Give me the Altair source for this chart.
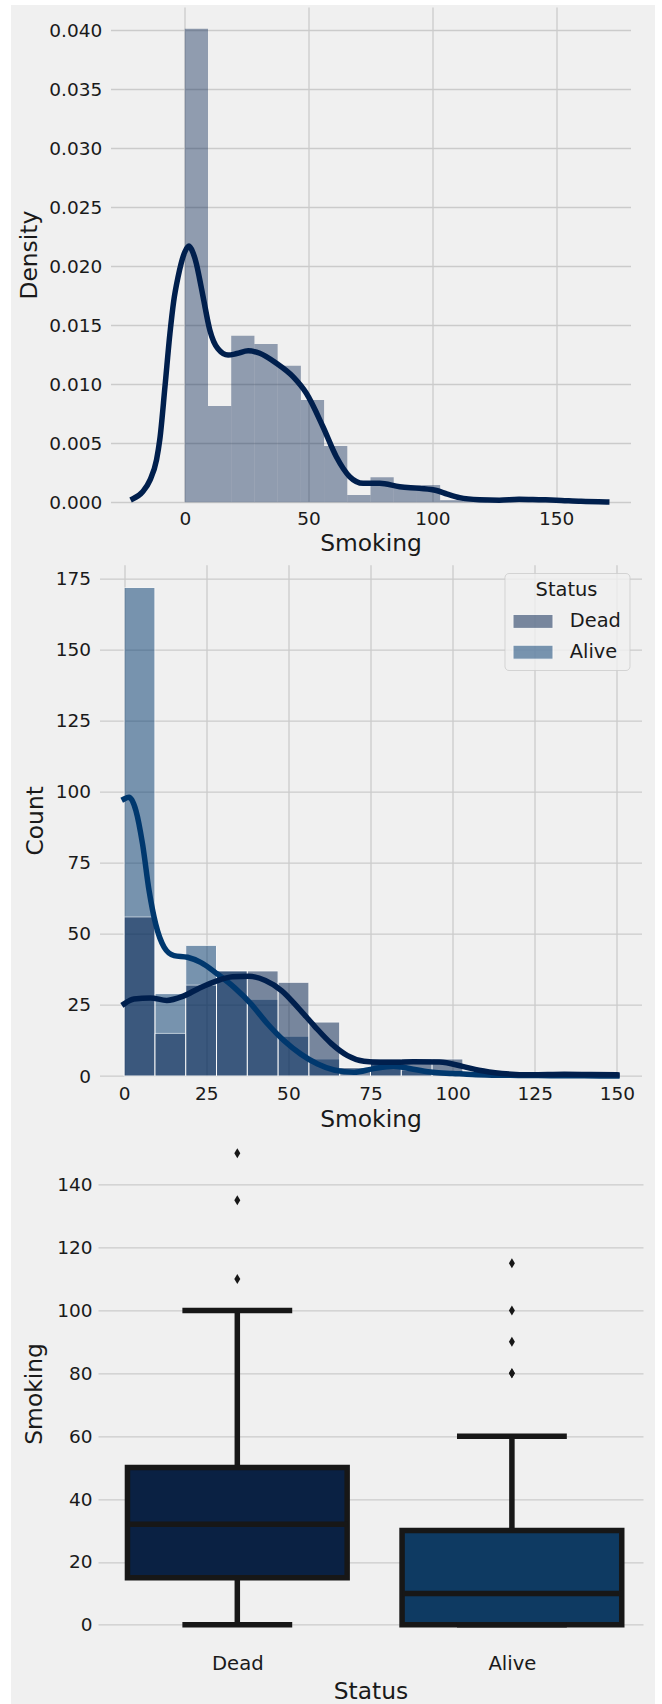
import altair as alt
import pandas as pd

# ---------------- data ----------------
BIN_EDGES = [0.0, 9.375, 18.75, 28.125, 37.5, 46.875, 56.25, 65.625, 75.0,
             84.375, 93.75, 103.125, 112.5, 121.875, 131.25, 140.625, 150.0]

# overall distribution (density histogram + KDE)
DENSITY = [0.0401, 0.00816, 0.01411, 0.01341, 0.01157, 0.00866, 0.00477, 0.00062,
           0.00212, 0.00146, 0.00146, 0.00018, 0.00018, 0.0, 0.00018, 0.00018]
KDE_X = [-20.9, -17.0, -14.0, -11.4, -10.1, -8.0, -6.0, -4.5, -2.7, 0.0, 1.7, 3.2,
         4.7, 6.0, 7.4, 10.1, 13.4, 17.5, 21.0, 25.6, 30.3, 37.0, 43.7, 49.1, 55.8,
         61.2, 66.6, 72.0, 78.7, 86.8, 94.8, 101.6, 106.0, 111.0, 119.0, 127.0,
         135.0, 143.0, 150.0, 160.0, 170.4]
KDE_DENSITY = [0.0003, 0.0009, 0.0019, 0.0036, 0.0053, 0.0098, 0.0143, 0.0170,
               0.0191, 0.0212, 0.0217, 0.0212, 0.0202, 0.0189, 0.0174, 0.0146,
               0.0130, 0.01247, 0.0126, 0.01284, 0.01262, 0.01177, 0.01064,
               0.00923, 0.0064, 0.00386, 0.00217, 0.00161, 0.00161, 0.00132,
               0.00118, 0.0010, 0.0007, 0.0004, 0.00022, 0.00018, 0.00026,
               0.00022, 0.00018, 0.00008, 0.00003]

# counts by status (layered histogram + KDE)
STATUS = ["Dead", "Alive"]
COUNT_DEAD = [56, 15, 32, 37, 37, 33, 19, 3, 6, 6, 6, 1, 0, 0, 1, 1]
COUNT_ALIVE = [172, 29, 46, 37, 27, 14, 6, 0, 5, 2, 2, 0, 1, 0, 0, 0]
KDE_DEAD_X = [0, 3, 8, 13, 18, 23, 28, 33, 38, 43, 48, 53, 58, 63, 68, 73, 78, 83,
              88, 96, 103, 108, 115, 124, 134, 142, 150]
KDE_DEAD_COUNT = [25.4, 27.1, 27.5, 26.6, 28.1, 31.0, 33.4, 34.9, 35.1, 33.6, 30.0,
                  24.0, 17.5, 11.5, 7.2, 5.2, 4.8, 4.8, 5.0, 4.9, 3.4, 2.0, 0.9,
                  0.4, 0.6, 0.5, 0.4]
KDE_ALIVE_X = [0, 1.5, 3.6, 5.6, 7.6, 9.6, 12.2, 15.2, 19.3, 23.3, 28.4, 33.5, 38.6,
               43.7, 48.7, 53.8, 58.9, 63.9, 70, 76, 82, 88, 94, 100, 106, 112, 120,
               130, 140, 150]
KDE_ALIVE_COUNT = [97.5, 98.1, 93.4, 81.7, 65.2, 53.5, 45.3, 42.4, 41.8, 40.0, 35.9,
                   31.2, 25.4, 18.3, 12.4, 7.7, 4.2, 2.1, 1.3, 2.6, 3.4, 2.4, 1.3,
                   0.9, 0.5, 0.3, 0.2, 0.1, 0.05, 0.02]

# box plot summary by status
Q1 = [15, 0]
MEDIAN = [32, 10]
Q3 = [50, 30]
WHISKER_LO = [0, 0]
WHISKER_HI = [100, 60]
OUTLIERS_DEAD = [110, 135, 150]
OUTLIERS_ALIVE = [80, 80, 90, 100, 115]

# ---------------- style ----------------
FONT = "DejaVu Sans"
INK = "#1a1a1a"
GRID = "#cbcbcb"
BG = "#f0f0f0"
NAVY = "#001f4d"
BLUE = "#00386e"
BOX_FILL = ["#0a2143", "#0e3a62"]
EDGE = "#171717"
LW = 5.5
THIN_DIAMOND = "M0,-1L0.6,0L0,1L-0.6,0Z"
# wide legend swatch drawn at twice the nominal symbol extent
SWATCH = "M-2,-0.7L2,-0.7L2,0.7L-2,0.7Z"

PAGE_W, PAGE_H = 662, 1704
LEFT1, TOP1 = 110.5, 7
W1, H1 = 520, 495.3
W2, H2 = 542, 511.3
W3, H3 = 545, 510
GAP = 61.7


def axis(**kw):
    base = dict(ticks=False, tickSize=0, domain=False, labelFont=FONT,
                labelFontSize=18.5, labelColor=INK, titleFont=FONT,
                titleFontSize=23.4, titleFontWeight="normal", titleColor=INK,
                gridColor=GRID, gridWidth=1.3, labelFlush=False,
                labelOverlap=False, titleBaseline="alphabetic")
    base.update(kw)
    return alt.Axis(**base)


def lin(lo, hi):
    return alt.Scale(domain=[lo, hi], nice=False, zero=False, padding=0)


# ---------------- panel 1: density ----------------
hist1 = pd.DataFrame({"lo": BIN_EDGES[:-1], "hi": BIN_EDGES[1:], "density": DENSITY})
kde1 = pd.DataFrame({"lo": KDE_X, "density": KDE_DENSITY})

x1 = lin(-30, 180)
y1 = lin(0, 0.04195)
ax1x = axis(values=[0, 50, 100, 150], title="Smoking", labelPadding=7, titleY=47.7)
ax1y = axis(values=[0, 0.005, 0.01, 0.015, 0.02, 0.025, 0.03, 0.035, 0.04],
            format=".3f", title="Density", labelPadding=8.8, titleX=-74.5)

page = alt.Data(values=[{"k": 0}])
strip_left = alt.Chart(page).mark_rect(color="white").encode(
    x=alt.value(-LEFT1), x2=alt.value(-LEFT1 + 11),
    y=alt.value(-TOP1), y2=alt.value(PAGE_H - TOP1))
strip_top = alt.Chart(page).mark_rect(color="white").encode(
    x=alt.value(-LEFT1), x2=alt.value(PAGE_W - LEFT1),
    y=alt.value(-TOP1), y2=alt.value(-TOP1 + 5))
strip_right = alt.Chart(page).mark_rect(color="white").encode(
    x=alt.value(PAGE_W - 7 - LEFT1), x2=alt.value(PAGE_W - LEFT1),
    y=alt.value(-TOP1), y2=alt.value(PAGE_H - TOP1))

bars1 = alt.Chart(hist1).mark_rect(color=NAVY, opacity=0.4, strokeWidth=0).encode(
    x=alt.X("lo:Q", scale=x1, axis=ax1x), x2="hi:Q",
    y=alt.Y("density:Q", scale=y1, axis=ax1y), y2=alt.Y2Datum(0))
line1 = alt.Chart(kde1).mark_line(color=NAVY, strokeWidth=LW, interpolate="monotone",
                                  strokeCap="square", strokeJoin="round").encode(
    x=alt.X("lo:Q", scale=x1, axis=ax1x),
    y=alt.Y("density:Q", scale=y1, axis=ax1y))

panel1 = alt.layer(strip_left, strip_top, strip_right, bars1, line1).properties(
    width=W1, height=H1)

# ---------------- panel 2: counts by status ----------------
n = len(BIN_EDGES) - 1
hist2 = pd.DataFrame({
    "status": ["Alive"] * n + ["Dead"] * n,
    "lo": BIN_EDGES[:-1] * 2,
    "hi": BIN_EDGES[1:] * 2,
    "count": COUNT_ALIVE + COUNT_DEAD,
})
kde2 = pd.DataFrame({
    "status": ["Alive"] * len(KDE_ALIVE_X) + ["Dead"] * len(KDE_DEAD_X),
    "lo": KDE_ALIVE_X + KDE_DEAD_X,
    "count": KDE_ALIVE_COUNT + KDE_DEAD_COUNT,
})

x2s = lin(-7.5, 157.5)
y2s = lin(0, 180.0)
ax2x = axis(values=[0, 25, 50, 75, 100, 125, 150], title="Smoking",
            labelPadding=8.5, titleY=50.7)
ax2y = axis(values=[0, 25, 50, 75, 100, 125, 150, 175], title="Count",
            labelPadding=9, titleX=-57.1)

legend2 = alt.Legend(
    title="Status", orient="none", legendX=405, legendY=8.3, zindex=1,
    symbolType=SWATCH, symbolSize=400, symbolOpacity=0.5,
    symbolStrokeColor="white", symbolStrokeWidth=1, symbolOffset=10,
    labelFont=FONT, labelFontSize=19.4, labelColor=INK, labelOffset=26.3,
    titleFont=FONT, titleFontSize=19.4, titleFontWeight="normal", titleColor=INK,
    titleAnchor="middle", titleAlign="center", titlePadding=10.5,
    padding=8, rowPadding=10.8, fillColor="rgba(240,240,240,0.8)",
    strokeColor="rgba(204,204,204,0.8)", cornerRadius=4)

bars2 = alt.Chart(hist2).mark_rect(opacity=0.5, stroke="white", strokeWidth=1).encode(
    x=alt.X("lo:Q", scale=x2s, axis=ax2x), x2="hi:Q",
    y=alt.Y("count:Q", scale=y2s, axis=ax2y), y2=alt.Y2Datum(0),
    color=alt.Color("status:N", scale=alt.Scale(domain=STATUS, range=[NAVY, BLUE]),
                    legend=legend2))


def kde_line(status, colour):
    return alt.Chart(kde2).transform_filter(
        alt.datum.status == status
    ).mark_line(color=colour, strokeWidth=LW, interpolate="monotone",
                strokeCap="square", strokeJoin="round").encode(
        x=alt.X("lo:Q", scale=x2s, axis=ax2x),
        y=alt.Y("count:Q", scale=y2s, axis=ax2y))


panel2 = alt.layer(bars2, kde_line("Alive", BLUE), kde_line("Dead", NAVY)).properties(
    width=W2, height=H2)

# ---------------- panel 3: box plot ----------------
box = pd.DataFrame({"status": STATUS, "q1": Q1, "median": MEDIAN, "q3": Q3,
                    "lo": WHISKER_LO, "hi": WHISKER_HI})
outl = pd.DataFrame({
    "status": ["Dead"] * len(OUTLIERS_DEAD) + ["Alive"] * len(OUTLIERS_ALIVE),
    "value": OUTLIERS_DEAD + OUTLIERS_ALIVE,
})
idx_expr = f"indexof({STATUS!r}, datum.status)"

x3 = lin(-0.5073, 1.4774)
y3 = lin(-7.5, 154.7)
ax3x = axis(values=[0, 1], labelExpr=f"{STATUS!r}[datum.value]", grid=False,
            title="Status", labelPadding=6, labelFontSize=19.6, titleY=50)
ax3y = axis(values=[0, 20, 40, 60, 80, 100, 120, 140], title="Smoking",
            labelPadding=6, titleX=-57)

base3 = alt.Chart(box).transform_calculate(
    idx=idx_expr, left="datum.idx - 0.4", right="datum.idx + 0.4",
    capl="datum.idx - 0.2", capr="datum.idx + 0.2")

whisk_hi = base3.mark_rule(color=EDGE, strokeWidth=LW).encode(
    x=alt.X("idx:Q", scale=x3, axis=ax3x),
    y=alt.Y("q3:Q", scale=y3, axis=ax3y), y2="hi:Q")
whisk_lo = base3.mark_rule(color=EDGE, strokeWidth=LW).encode(
    x=alt.X("idx:Q", scale=x3, axis=ax3x),
    y=alt.Y("lo:Q", scale=y3, axis=ax3y), y2="q1:Q")
boxes = base3.mark_rect(stroke=EDGE, strokeWidth=LW, opacity=1).encode(
    x=alt.X("left:Q", scale=x3, axis=ax3x), x2="right:Q",
    y=alt.Y("q1:Q", scale=y3, axis=ax3y), y2="q3:Q",
    fill=alt.Fill("status:N", scale=alt.Scale(domain=STATUS, range=BOX_FILL),
                  legend=None))
medians = base3.mark_rule(color=EDGE, strokeWidth=LW).encode(
    x=alt.X("left:Q", scale=x3, axis=ax3x), x2="right:Q",
    y=alt.Y("median:Q", scale=y3, axis=ax3y))
cap_hi = base3.mark_rule(color=EDGE, strokeWidth=LW).encode(
    x=alt.X("capl:Q", scale=x3, axis=ax3x), x2="capr:Q",
    y=alt.Y("hi:Q", scale=y3, axis=ax3y))
cap_lo = base3.mark_rule(color=EDGE, strokeWidth=LW).encode(
    x=alt.X("capl:Q", scale=x3, axis=ax3x), x2="capr:Q",
    y=alt.Y("lo:Q", scale=y3, axis=ax3y))
fliers = alt.Chart(outl).transform_calculate(idx=idx_expr).mark_point(
    shape=THIN_DIAMOND, size=100, filled=True, color=EDGE, opacity=1).encode(
    x=alt.X("idx:Q", scale=x3, axis=ax3x),
    y=alt.Y("value:Q", scale=y3, axis=ax3y))

panel3 = alt.layer(whisk_hi, whisk_lo, boxes, medians, cap_hi, cap_lo, fliers).properties(
    width=W3, height=H3)

# ---------------- assemble ----------------
chart = alt.vconcat(
    panel1, panel2, panel3, spacing=GAP, bounds="flush", center=True
).resolve_scale(
    color="independent", fill="independent"
).resolve_legend(
    color="independent"
).properties(
    padding=0, background=BG
).configure(
    font=FONT
).configure_view(
    stroke=None
)

chart.save("out.html", embed_options={"renderer": "svg", "actions": False})
